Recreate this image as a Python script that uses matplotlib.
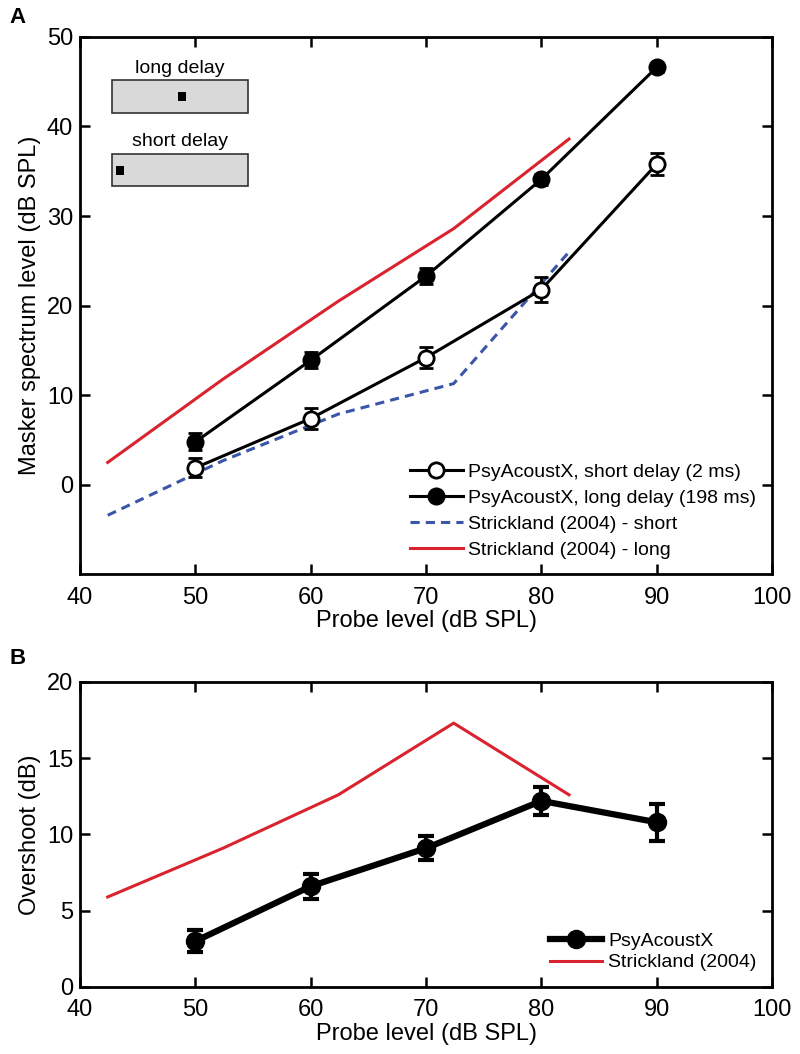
import matplotlib.pyplot as plt
from matplotlib.patches import Rectangle
from matplotlib.lines import Line2D

plt.rcParams['font.family'] = ['Liberation Sans', 'DejaVu Sans']

# Probe levels (dB SPL)
probe = [50, 60, 70, 80, 90]

# Panel A: masker spectrum level at threshold
short_mean = [1.9, 7.4, 14.2, 21.8, 35.8]
short_err = [1.05, 1.2, 1.15, 1.35, 1.2]
long_mean = [4.8, 13.9, 23.3, 34.1, 46.6]
long_err = [0.95, 0.9, 0.85, 0.6, 0.5]

# Strickland (2004) reference curves
strick_x = [42.4, 52.4, 62.4, 72.4, 82.4]
strick_short = [-3.4, 2.7, 7.9, 11.3, 26.0]
strick_long = [2.5, 11.8, 20.5, 28.6, 38.6]

# Panel B: overshoot
over_mean = [3.0, 6.6, 9.1, 12.2, 10.8]
over_err = [0.72, 0.8, 0.8, 0.9, 1.2]
strick_over = [5.9, 9.1, 12.6, 17.3, 12.6]

BLUE = '#3a56a8'
RED = '#d9232e'

fig = plt.figure(figsize=(8, 10.54), dpi=100)
axA = fig.add_axes([0.100, 0.455, 0.865, 0.510])
axB = fig.add_axes([0.100, 0.0636, 0.865, 0.2894])

for ax in (axA, axB):
    for s in ax.spines.values():
        s.set_linewidth(2)
    ax.tick_params(direction='in', top=True, right=True, length=7, width=1.8,
                   labelsize=17)
    ax.tick_params(axis='x', pad=9)
    ax.tick_params(axis='y', pad=5)
    ax.set_xlim(40, 100)
    ax.set_xticks([40, 50, 60, 70, 80, 90, 100])
    ax.set_xlabel('Probe level (dB SPL)', fontsize=17, labelpad=1)

# -------- Panel A --------
axA.plot(strick_x, strick_short, color=BLUE, lw=2.2, ls=(0, (3, 2)))
axA.plot(strick_x, strick_long, color=RED, lw=2.2)
axA.errorbar(probe, short_mean, yerr=short_err, color='black', lw=2.2,
             marker='o', ms=11, mfc='white', mec='black', mew=2,
             elinewidth=2, capsize=5, capthick=2)
axA.errorbar(probe, long_mean, yerr=long_err, color='black', lw=2.2,
             marker='o', ms=11, mfc='black', mec='black', mew=2,
             elinewidth=2, capsize=5, capthick=2)
axA.set_ylim(-10, 50)
axA.set_yticks([0, 10, 20, 30, 40, 50])
axA.set_ylabel('Masker spectrum level (dB SPL)', fontsize=17, labelpad=4)

legA = [
    Line2D([], [], color='black', lw=2.2, marker='o', ms=11, mfc='white', mew=2),
    Line2D([], [], color='black', lw=2.2, marker='o', ms=11, mfc='black', mew=2),
    Line2D([], [], color=BLUE, lw=2.2, ls=(0, (3, 2))),
    Line2D([], [], color=RED, lw=2.2),
]
axA.legend(legA, ['PsyAcoustX, short delay (2 ms)',
                  'PsyAcoustX, long delay (198 ms)',
                  'Strickland (2004) - short',
                  'Strickland (2004) - long'],
           loc='lower right', bbox_to_anchor=(1.0, 0.0), frameon=False,
           fontsize=14, handlelength=2.7, handletextpad=0.3,
           labelspacing=0.43, borderaxespad=0.4)

# stimulus schematic insets
for y0, sq_x, txt in [(0.859, 0.142, 'long delay'), (0.722, 0.052, 'short delay')]:
    axA.add_patch(Rectangle((0.0457, y0), 0.197, 0.060, transform=axA.transAxes,
                            facecolor='#d9d9d9', edgecolor='#333333', lw=1.2))
    axA.add_patch(Rectangle((sq_x, y0 + 0.022), 0.011, 0.016,
                            transform=axA.transAxes, facecolor='black',
                            edgecolor='black', lw=0))
    axA.text(0.144, y0 + 0.067, txt, transform=axA.transAxes, ha='center',
             va='bottom', fontsize=14)

# -------- Panel B --------
axB.plot(strick_x, strick_over, color=RED, lw=2.2)
axB.errorbar(probe, over_mean, yerr=over_err, color='black', lw=4.5,
             marker='o', ms=13, mfc='black', mec='black',
             elinewidth=3, capsize=6, capthick=3)
axB.set_ylim(0, 20)
axB.set_yticks([0, 5, 10, 15, 20])
axB.set_ylabel('Overshoot (dB)', fontsize=17, labelpad=4)
legB = [
    Line2D([], [], color='black', lw=4.5, marker='o', ms=13, mfc='black'),
    Line2D([], [], color=RED, lw=2.2),
]
axB.legend(legB, ['PsyAcoustX', 'Strickland (2004)'], loc='lower right',
           frameon=False, fontsize=14, handlelength=2.7, handletextpad=0.3,
           labelspacing=0.2, borderaxespad=0.4)

fig.text(0.012, 0.978, 'A', fontsize=16, fontweight='bold')
fig.text(0.012, 0.370, 'B', fontsize=16, fontweight='bold')

fig.savefig('out.png', dpi=100)
